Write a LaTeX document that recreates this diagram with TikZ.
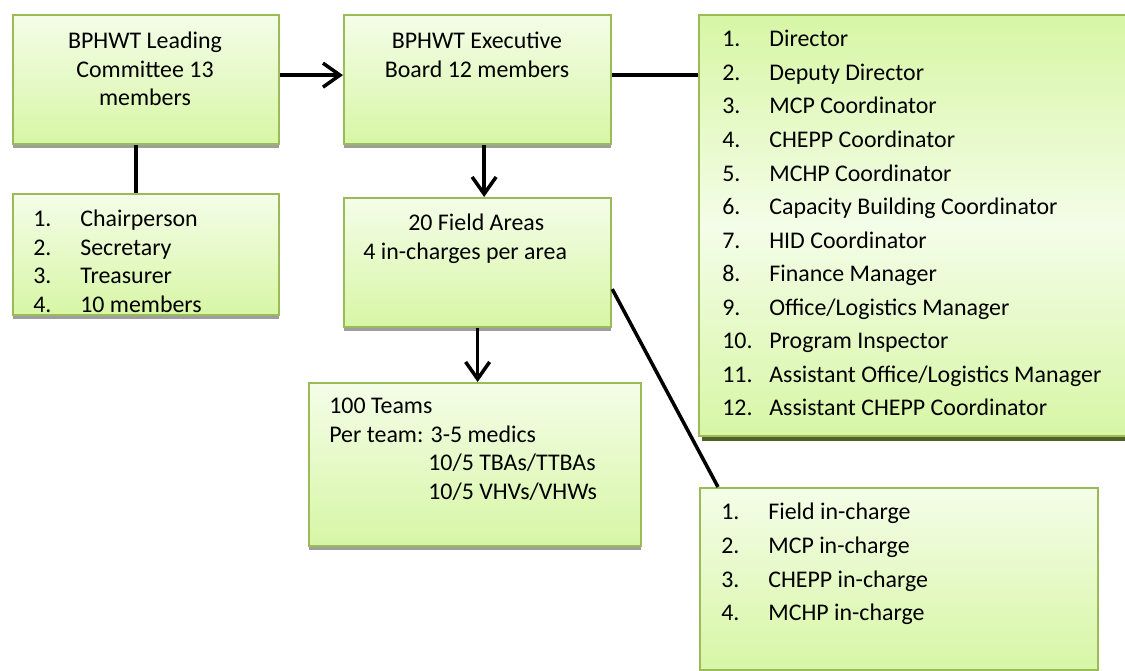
\documentclass[tikz,border=0pt]{standalone}
\usepackage{fontspec}
\setmainfont{Carlito}
\usetikzlibrary{arrows.meta,shadows}
\usepackage{xcolor}
\definecolor{boxtop}{HTML}{F4FDE8}
\definecolor{boxbot}{HTML}{D7F6A5}
\definecolor{boxline}{HTML}{9BBB59}
\definecolor{olivedark}{HTML}{4F6228}
\newcommand{\itemno}[1]{\makebox[0.94cm][l]{#1}}
\tikzset{
  boxbase/.style={draw=boxline, line width=1.3pt, anchor=north west, inner sep=0pt},
  greenbox/.style={boxbase, top color=boxtop, bottom color=boxbot,
    drop shadow={shadow xshift=0pt, shadow yshift=-0.08cm, fill=black!38, opacity=1}},
  listbox/.style={boxbase, top color=boxbot, bottom color=boxbot, middle color=boxtop,
    drop shadow={shadow xshift=0.06cm, shadow yshift=-0.1cm, fill=olivedark, opacity=1}},
  txt/.style={inner sep=0pt, font=\fontsize{13.6}{16.2}\selectfont},
  listtxt/.style={inner sep=0pt, align=left, anchor=north west, font=\fontsize{13.6}{19.1}\selectfont},
  link/.style={line width=2pt, draw=black},
  arrow/.style={link, -{Straight Barb[length=3.4mm, width=4.8mm]}}
}
\begin{document}
\begin{tikzpicture}[x=0.02cm, y=-0.02cm]
  \clip (0,0) rectangle (1125,671);
  % boxes
  \node[greenbox, minimum width=5.32cm, minimum height=2.58cm] (lead) at (12,14) {};
  \node[greenbox, minimum width=5.32cm, minimum height=2.42cm] (leadlist) at (12,193) {};
  \node[greenbox, minimum width=5.34cm, minimum height=2.58cm] (exec) at (343,14) {};
  \node[greenbox, minimum width=5.34cm, minimum height=2.58cm] (field) at (343,197) {};
  \node[greenbox, minimum width=6.64cm, minimum height=3.26cm] (teams) at (308,382) {};
  \node[listbox, minimum width=8.8cm, minimum height=8.42cm] (execlist) at (698,14) {};
  \node[greenbox, minimum width=7.96cm, minimum height=3.64cm] (fieldlist) at (699,487) {};
  % texts
  \node[txt, align=center, anchor=north] (leadtxt) at (145,32) {BPHWT Leading\\Committee 13\\members};
  \node[txt, align=center, anchor=north] (exectxt) at (477,32) {BPHWT Executive\\Board 12 members};
  \node[txt, align=left, anchor=north west] (fieldtxt) at (363,214) {\hspace{0.9cm}20 Field Areas\\4 in-charges per area};
  \node[txt, align=left, anchor=north west] (teamstxt) at (329,398) {100 Teams\\Per team: 3-5 medics\\\hspace{1.98cm}10/5 TBAs/TTBAs\\\hspace{1.98cm}10/5 VHVs/VHWs};
  \node[txt, align=left, anchor=north west] (leadlisttxt) at (33,210) {\itemno{1.}Chairperson\\\itemno{2.}Secretary\\\itemno{3.}Treasurer\\\itemno{4.}10 members};
  \node[listtxt] (execlisttxt) at (722,30) {\itemno{1.}Director\\\itemno{2.}Deputy Director\\\itemno{3.}MCP Coordinator\\\itemno{4.}CHEPP Coordinator\\\itemno{5.}MCHP Coordinator\\\itemno{6.}Capacity Building Coordinator\\\itemno{7.}HID Coordinator\\\itemno{8.}Finance Manager\\\itemno{9.}Office/Logistics Manager\\\itemno{10.}Program Inspector\\\itemno{11.}Assistant Office/Logistics Manager\\\itemno{12.}Assistant CHEPP Coordinator};
  \node[listtxt] (fieldlisttxt) at (721,503) {\itemno{1.}Field in-charge\\\itemno{2.}MCP in-charge\\\itemno{3.}CHEPP in-charge\\\itemno{4.}MCHP in-charge};
  % connectors
  \draw[arrow] ([yshift=0.09cm]lead.east) -- ([yshift=0.09cm]exec.west);
  \draw[link] ([xshift=-0.2cm]lead.south) -- ([xshift=-0.2cm]leadlist.north);
  \draw[link] ([yshift=0.09cm]exec.east) -- ([yshift=0.09cm]exec.east -| execlist.west);
  \draw[arrow] ([xshift=0.13cm]exec.south) -- ([xshift=0.13cm]exec.south |- field.north);
  \draw[arrow] (field.south) -- (field.south |- teams.north);
  \draw[link] ([yshift=-0.53cm]field.east) -- ([xshift=0.38cm]fieldlist.north west);
\end{tikzpicture}
\end{document}
